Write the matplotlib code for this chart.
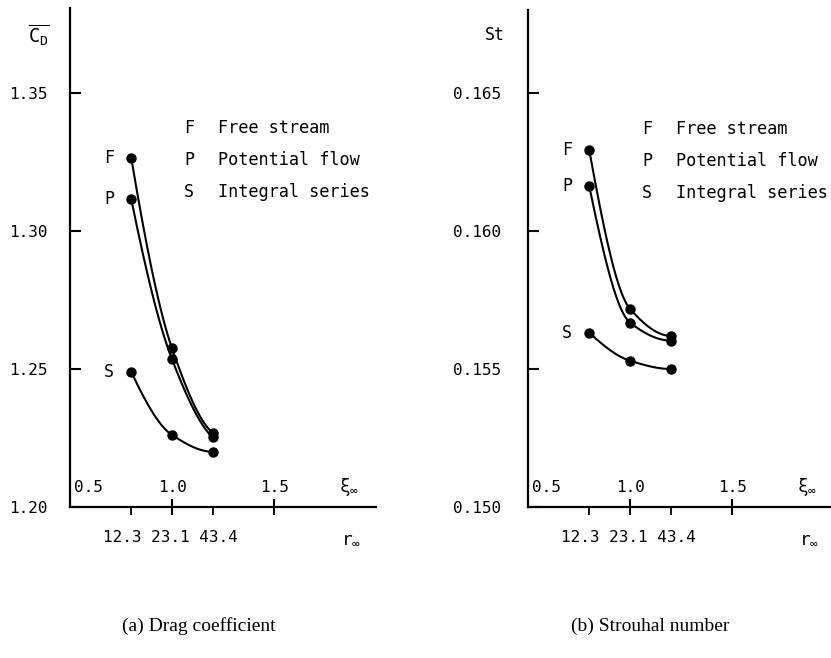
import numpy as np
import matplotlib
matplotlib.use("Agg")
import matplotlib.pyplot as plt

plt.rcParams['font.family'] = ['DejaVu Sans Mono', 'DejaVu Sans']
plt.rcParams['mathtext.fontset'] = 'custom'
plt.rcParams['mathtext.rm'] = 'DejaVu Sans Mono'
plt.rcParams['mathtext.it'] = 'DejaVu Sans Mono'

# data
xi = [0.8, 1.0, 1.2]
r_labels = ["12.3", "23.1", "43.4"]

cd_free = [1.3266, 1.2575, 1.2269]
cd_potential = [1.3117, 1.2535, 1.2252]
cd_integral = [1.2490, 1.2261, 1.2200]

st_free = [0.16294, 0.15718, 0.15620]
st_potential = [0.16163, 0.15668, 0.15603]
st_integral = [0.15632, 0.15530, 0.15500]

series_keys = ["F", "P", "S"]
legend_names = ["Free stream", "Potential flow", "Integral series"]


def pchip(x, y, n=80):
    # monotone cubic through the points, for a smooth drawn curve
    x = np.asarray(x, float)
    y = np.asarray(y, float)
    h = np.diff(x)
    delta = np.diff(y) / h
    d = np.zeros_like(y)
    for k in range(1, len(x) - 1):
        if delta[k - 1] * delta[k] > 0:
            w1 = 2 * h[k] + h[k - 1]
            w2 = h[k] + 2 * h[k - 1]
            d[k] = (w1 + w2) / (w1 / delta[k - 1] + w2 / delta[k])

    def end(h0, h1, d0, d1):
        m = ((2 * h0 + h1) * d0 - h0 * d1) / (h0 + h1)
        if np.sign(m) != np.sign(d0):
            return 0.0
        if np.sign(d0) != np.sign(d1) and abs(m) > abs(3 * d0):
            return 3 * d0
        return m

    d[0] = end(h[0], h[1], delta[0], delta[1])
    d[-1] = end(h[-1], h[-2], delta[-1], delta[-2])
    xs, ys = [], []
    for k in range(len(x) - 1):
        t = np.linspace(0, 1, n)
        h00 = 2 * t**3 - 3 * t**2 + 1
        h10 = t**3 - 2 * t**2 + t
        h01 = -2 * t**3 + 3 * t**2
        h11 = t**3 - t**2
        xs.append(x[k] + t * h[k])
        ys.append(h00 * y[k] + h10 * h[k] * d[k] + h01 * y[k + 1] + h11 * h[k] * d[k + 1])
    return np.concatenate(xs), np.concatenate(ys)


W, H = 831, 658
fig = plt.figure(figsize=(W / 100, H / 100), dpi=100)


def px_axes(left, top, right, bottom):
    return fig.add_axes([left / W, 1 - bottom / H, (right - left) / W, (bottom - top) / H])


def panel(ax, curves, ylo, ystep, ytop, yfmt, ypad):
    for s in ["top", "right"]:
        ax.spines[s].set_visible(False)
    for s in ["left", "bottom"]:
        ax.spines[s].set_linewidth(1.6)
    ax.set_xlim(0.5, 2.0)
    ax.set_ylim(ylo, ytop)
    ax.set_yticks([ylo + ystep * i for i in range(4)])
    ax.set_yticklabels([yfmt.format(ylo + ystep * i) for i in range(4)])
    ax.tick_params(axis='y', direction='in', length=8, width=1.5, pad=ypad, labelsize=11.5)
    ax.set_xticks([1.0, 1.5])
    ax.set_xticklabels([])
    ax.tick_params(axis='x', which='major', direction='inout', length=11, width=1.5)
    ax.set_xticks([0.8, 1.2], minor=True)
    ax.tick_params(axis='x', which='minor', direction='out', length=6, width=1.3)

    for ys, key in zip(curves, series_keys):
        cx, cy = pchip(xi, ys)
        ax.plot(cx, cy, color='black', lw=1.5, clip_on=False)
        ax.plot(xi, ys, 'o', color='black', ms=6.5, clip_on=False)
        ax.annotate(key, (xi[0], ys[0]), xytext=(-16, 0), textcoords='offset points',
                    ha='center', va='center', fontsize=12)

    tr = ax.get_xaxis_transform()
    ax.text(0.52, 0.04, "0.5", transform=tr, ha='left', va='center', fontsize=11.5)
    ax.text(1.0, 0.04, "1.0", transform=tr, ha='center', va='center', fontsize=11.5)
    ax.text(1.5, 0.04, "1.5", transform=tr, ha='center', va='center', fontsize=11.5)
    ax.text(1.87, 0.04, r"$\xi_\infty$", transform=tr, ha='center', va='center', fontsize=13)
    ax.text(0.99, -0.062, " ".join(r_labels), transform=tr, ha='center', va='center',
            fontsize=11.5)
    ax.text(1.88, -0.062, r"$r_\infty$", transform=tr, ha='center', va='center', fontsize=13)

    for i, (key, name) in enumerate(zip(series_keys, legend_names)):
        yy = 0.76 - 0.064 * i
        ax.text(1.083, yy, key, transform=tr, ha='center', va='center', fontsize=12)
        ax.text(1.225, yy, name, transform=tr, ha='left', va='center', fontsize=12.2,
                clip_on=False)


ax1 = px_axes(70, 8, 376, 507)
panel(ax1, [cd_free, cd_potential, cd_integral], 1.20, 0.05,
      1.20 + 499 / 138 * 0.05, "{:.2f}", 16)

ax2 = px_axes(528, 10, 834, 507)
panel(ax2, [st_free, st_potential, st_integral], 0.150, 0.005,
      0.150 + 497 / 138 * 0.005, "{:.3f}", 19)

fig.text(39 / W, 1 - 35 / H, r"$\overline{\mathrm{C}_\mathrm{D}}$", ha='center', va='center',
         fontsize=13.5)
fig.text(495 / W, 1 - 35 / H, "St", ha='center', va='center', fontsize=12)

fig.text(199 / W, 1 - 626 / H, "(a) Drag coefficient", ha='center', va='center',
         fontsize=14, family='Liberation Serif')
fig.text(650 / W, 1 - 626 / H, "(b) Strouhal number", ha='center', va='center',
         fontsize=14, family='Liberation Serif')

fig.savefig("out.png", dpi=100)
